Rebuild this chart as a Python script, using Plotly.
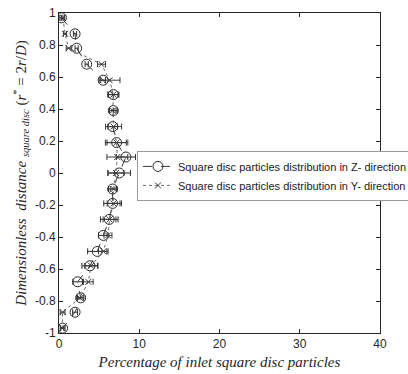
import plotly.graph_objects as go

# Dimensionless radial positions r* = 2r/D of the sampling bins
r_star = [0.97, 0.87, 0.78, 0.68, 0.58, 0.49, 0.39, 0.29, 0.19, 0.10, 0.00,
          -0.10, -0.19, -0.29, -0.39, -0.49, -0.58, -0.68, -0.78, -0.87, -0.97]

# Percentage of inlet square disc particles, Z- direction
pct_z = [0.3, 2.0, 2.2, 3.45, 5.5, 6.77, 6.77, 6.7, 7.18, 8.34, 7.5,
         6.68, 6.68, 6.26, 5.52, 4.77, 3.86, 2.33, 2.7, 2.0, 0.45]
err_z = [0.2, 0.2, 0.2, 0.2, 0.3, 0.7, 0.5, 0.6, 1.2, 1.2, 1.4,
         0.5, 1.1, 1.1, 0.6, 1.2, 1.0, 0.6, 0.4, 0.3, 0.3]

# Percentage of inlet square disc particles, Y- direction
pct_y = [0.5, 0.75, 1.2, 5.3, 6.3, 6.77, 6.7, 6.8, 7.18, 7.27, 7.1,
         6.8, 6.8, 6.3, 6.1, 5.52, 4.0, 3.66, 2.6, 0.45, 0.4]
err_y = [0.2, 0.2, 0.3, 0.5, 1.3, 0.6, 0.4, 1.0, 1.4, 1.3, 1.0,
         0.4, 0.8, 0.8, 0.5, 0.6, 0.8, 0.6, 0.4, 0.3, 0.2]

x_ticks = [0, 10, 20, 30, 40]
y_ticks = [-1, -0.8, -0.6, -0.4, -0.2, 0, 0.2, 0.4, 0.6, 0.8, 1]

axis_color = "#262626"
sans = "Liberation Sans, Arial, sans-serif"
serif = "Liberation Serif, DejaVu Serif, serif"

fig = go.Figure()

fig.add_trace(go.Scatter(
    x=pct_z, y=r_star, mode="lines+markers",
    name="Square disc particles distribution in Z- direction",
    line=dict(color="#3a3a3a", width=1, dash="dash"),
    marker=dict(symbol="circle-open", size=10, color="#2a2a2a",
                line=dict(width=1, color="#2a2a2a")),
    error_x=dict(type="data", array=err_z, color="#2a2a2a",
                 thickness=1, width=3),
))

fig.add_trace(go.Scatter(
    x=pct_y, y=r_star, mode="lines+markers",
    name="Square disc particles distribution in Y- direction",
    line=dict(color="#6a6a6a", width=1, dash="dot"),
    marker=dict(symbol="x-thin-open", size=6, color="#3a3a3a",
                line=dict(width=1, color="#3a3a3a")),
    error_x=dict(type="data", array=err_y, color="#3a3a3a",
                 thickness=1, width=3),
))

fig.update_layout(
    width=408, height=374,
    margin=dict(l=59, r=28, t=13, b=41, autoexpand=False),
    paper_bgcolor="white", plot_bgcolor="white",
    font=dict(family=sans, size=12, color=axis_color),
    showlegend=True,
    legend=dict(
        x=0.243, y=0.569, xanchor="left", yanchor="top",
        bgcolor="white", bordercolor="#9a9a9a", borderwidth=1,
        font=dict(family=sans, size=11, color="#1a1a1a"),
        tracegroupgap=0, itemwidth=30,
    ),
)

fig.update_xaxes(
    range=[0, 40], tickvals=x_ticks, ticktext=[str(v) for v in x_ticks],
    showline=True, linecolor=axis_color, linewidth=1, mirror="ticks",
    ticks="inside", ticklen=4, tickcolor=axis_color,
    showgrid=False, zeroline=False,
    tickfont=dict(family=sans, size=12, color=axis_color),
    title=dict(text="<i>Percentage of inlet square disc particles</i>",
               font=dict(family=serif, size=15, color=axis_color),
               standoff=6),
)

fig.update_yaxes(
    range=[-1, 1], tickvals=y_ticks, ticktext=[f"{v:g}" for v in y_ticks],
    showline=True, linecolor=axis_color, linewidth=1, mirror="ticks",
    ticks="inside", ticklen=4, tickcolor=axis_color,
    showgrid=False, zeroline=False,
    tickfont=dict(family=sans, size=12, color=axis_color),
    title=dict(
        text="<i>Dimensionless  distance</i> <sub><i>square disc</i></sub> "
             "(<i>r</i><sup>*</sup> = 2<i>r</i>/<i>D</i>)",
        font=dict(family=serif, size=15, color=axis_color),
        standoff=4),
)

fig.write_html("out.html")
